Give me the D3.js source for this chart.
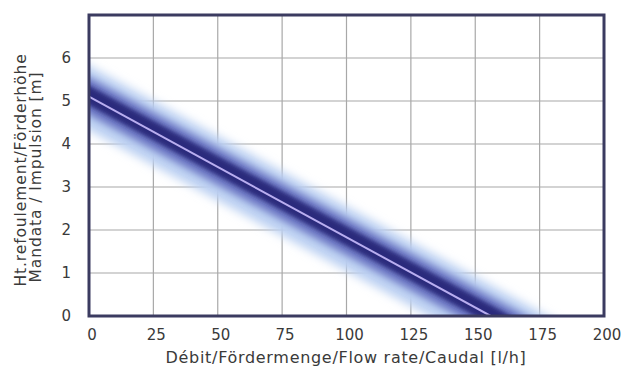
<!DOCTYPE html>
<html>
<head>
<meta charset="utf-8">
<script src="https://cdn.jsdelivr.net/npm/d3@7"></script>
<style>
  body { margin: 0; background: #fff; }
  svg text { font-family: "DejaVu Sans", Verdana, sans-serif; fill: #3a3a3a; }
</style>
</head>
<body>
<script>
"use strict";

// pump curve (flow l/h, head m)
const flowValues = [0, 156];
const headValues = [5.1, 0];
const xTicks = [0, 25, 50, 75, 100, 125, 150, 175, 200];
const yTicks = [0, 1, 2, 3, 4, 5, 6];
const yLabelLines = ['Ht.refoulement/Förderhöhe', 'Mandata / Impulsion  [m]'];
const xLabel = 'Débit/Fördermenge/Flow rate/Caudal [l/h]';

(function () {
  let width = 624, height = 373;
  let left = 89, right = 604, top = 15, bottom = 316;

  let svg = d3.select('body').append('svg')
    .attr('width', width)
    .attr('height', height);

  let x = d3.scaleLinear().domain([0, 200]).range([left, right]);
  let y = d3.scaleLinear().domain([0, 7]).range([bottom, top]);

  let defs = svg.append('defs');
  defs.append('clipPath').attr('id', 'plot-clip')
    .append('rect')
    .attr('x', left).attr('y', top)
    .attr('width', right - left).attr('height', bottom - top);

  [['blur-outer', 5], ['blur-mid', 3.5], ['blur-inner', 2]].forEach(function (b) {
    defs.append('filter').attr('id', b[0])
      .attr('x', '-20%').attr('y', '-20%').attr('width', '140%').attr('height', '140%')
      .append('feGaussianBlur').attr('stdDeviation', b[1]);
  });

  // grid
  let grid = svg.append('g').attr('class', 'grid');
  grid.selectAll('line.v').data(xTicks.slice(1, -1)).enter().append('line')
    .attr('class', 'v')
    .attr('x1', d => x(d)).attr('x2', d => x(d))
    .attr('y1', top).attr('y2', bottom)
    .style('stroke', '#a8a8a8').style('stroke-width', 1.2);
  grid.selectAll('line.h').data(yTicks.slice(1)).enter().append('line')
    .attr('class', 'h')
    .attr('x1', left).attr('x2', right)
    .attr('y1', d => y(d)).attr('y2', d => y(d))
    .style('stroke', '#a8a8a8').style('stroke-width', 1.2);

  // the curve with its glow
  let pts = flowValues.map((f, i) => [f, headValues[i]]);
  // extend so the band runs through the plot edges
  let slope = (headValues[1] - headValues[0]) / (flowValues[1] - flowValues[0]);
  let ext = [[-20, headValues[0] - 20 * slope], [200, headValues[0] + 200 * slope]];

  function band(up, down) {
    return d3.area()
      .x(d => x(d[0]))
      .y0(d => y(d[1] - down))
      .y1(d => y(d[1] + up));
  }

  let curve = svg.append('g').attr('clip-path', 'url(#plot-clip)');
  curve.append('path').datum(ext)
    .attr('d', band(0.72, 0.78))
    .style('fill', '#bcd0f2')
    .attr('filter', 'url(#blur-outer)');
  curve.append('path').datum(ext)
    .attr('d', band(0.45, 0.42))
    .style('fill', '#6d78c4')
    .attr('filter', 'url(#blur-mid)');
  curve.append('path').datum(ext)
    .attr('d', band(0.26, 0.2))
    .style('fill', '#2c2c7c')
    .attr('filter', 'url(#blur-inner)');
  curve.append('path').datum(pts)
    .attr('d', d3.line().x(d => x(d[0])).y(d => y(d[1])))
    .style('fill', 'none')
    .style('stroke', '#b9aef0')
    .style('stroke-width', 2);

  // frame
  svg.append('rect')
    .attr('x', left).attr('y', top)
    .attr('width', right - left).attr('height', bottom - top)
    .style('fill', 'none')
    .style('stroke', '#3b3b60')
    .style('stroke-width', 3);

  // tick labels
  svg.selectAll('text.xtick').data(xTicks).enter().append('text')
    .attr('class', 'xtick')
    .attr('x', d => x(d) + 3)
    .attr('y', 340)
    .attr('text-anchor', 'middle')
    .style('font-size', '15px')
    .text(d => d);

  svg.selectAll('text.ytick').data(yTicks).enter().append('text')
    .attr('class', 'ytick')
    .attr('x', 71)
    .attr('y', d => y(d) + 5)
    .attr('text-anchor', 'end')
    .style('font-size', '15px')
    .text(d => d);

  // axis labels
  svg.append('text')
    .attr('x', 346)
    .attr('y', 363)
    .attr('text-anchor', 'middle')
    .style('font-size', '16px')
    .style('letter-spacing', '0.7px')
    .text(xLabel);

  svg.selectAll('text.ylabel').data(yLabelLines).enter().append('text')
    .attr('class', 'ylabel')
    .attr('transform', (d, i) => 'translate(' + (26 + i * 15) + ',' + (170 + i * 7) + ') rotate(-90)')
    .attr('text-anchor', 'middle')
    .style('font-size', '15.5px')
    .style('letter-spacing', '0.9px')
    .text(d => d);
})();
</script>
</body>
</html>
